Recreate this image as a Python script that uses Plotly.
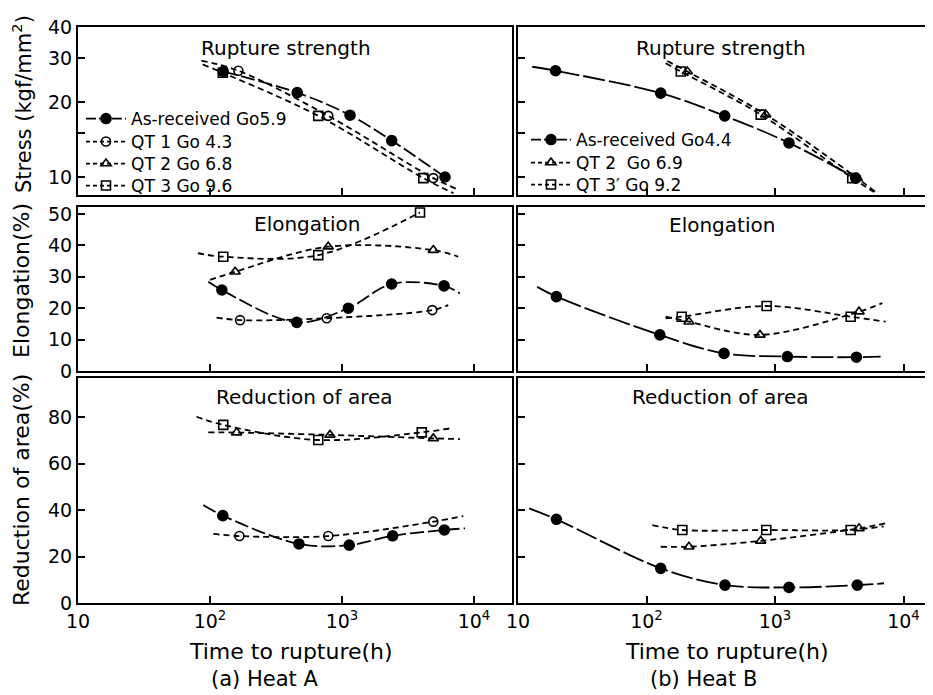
import math
import plotly.graph_objects as go

# ---------------- DATA ----------------
# Heat A : rupture strength (kgf/mm^2) vs time to rupture (h)
A_str_AR_t = [126, 458, 1150, 2380, 6030]
A_str_AR_v = [26.5, 21.8, 17.7, 14.0, 10.0]
A_str_QT1_t = [164, 787, 4920]
A_str_QT1_v = [26.7, 17.6, 9.9]
A_str_QT3_t = [125, 661, 4130]
A_str_QT3_v = [26.2, 17.6, 9.9]
# fitted curves
A_str_AR_ct = [126, 458, 1150, 2380, 6030]
A_str_AR_cv = [26.5, 21.8, 17.7, 14.0, 10.0]
A_str_QT1_ct = [86, 164, 787, 4920, 7600]
A_str_QT1_cv = [29.3, 26.7, 17.6, 9.9, 8.9]
A_str_QT3_ct = [88, 125, 661, 4130, 7000]
A_str_QT3_cv = [28.3, 26.2, 17.6, 9.9, 8.6]

# Heat A : elongation (%)
A_el_AR_t = [123, 454, 1117, 2376, 5930]
A_el_AR_v = [25.8, 15.5, 20.0, 27.7, 27.1]
A_el_QT1_t = [169, 766, 4830]
A_el_QT1_v = [16.2, 16.8, 19.4]
A_el_QT2_t = [155, 787, 4920]
A_el_QT2_v = [31.6, 39.6, 38.5]
A_el_QT3_t = [126, 661, 3900]
A_el_QT3_v = [36.4, 36.9, 50.5]
A_el_AR_ct = [97, 123, 454, 1117, 2376, 5930, 7830]
A_el_AR_cv = [28.4, 25.8, 15.5, 20.0, 27.7, 27.1, 24.7]
A_el_QT1_ct = [112, 169, 766, 4830, 6380]
A_el_QT1_cv = [17.0, 16.2, 16.8, 19.4, 21.0]
A_el_QT2_ct = [100, 155, 787, 4920, 7600]
A_el_QT2_cv = [29.0, 31.6, 39.6, 38.5, 36.4]
A_el_QT3_ct = [81, 126, 661, 3900]
A_el_QT3_cv = [37.5, 36.4, 36.9, 50.5]

# Heat A : reduction of area (%)
A_ra_AR_t = [125, 472, 1135, 2420, 5960]
A_ra_AR_v = [37.6, 25.4, 24.9, 28.9, 31.4]
A_ra_QT1_t = [167, 787, 4920]
A_ra_QT1_v = [28.8, 28.8, 35.0]
A_ra_QT2_t = [159, 811, 4920]
A_ra_QT2_v = [73.3, 72.3, 70.8]
A_ra_QT3_t = [126, 661, 4020]
A_ra_QT3_v = [76.6, 70.1, 73.4]
A_ra_AR_ct = [89, 125, 472, 1135, 2420, 5960, 8550]
A_ra_AR_cv = [42.2, 37.6, 25.4, 24.9, 28.9, 31.4, 32.1]
A_ra_QT1_ct = [106, 167, 787, 4920, 8300]
A_ra_QT1_cv = [29.7, 28.8, 28.8, 35.0, 37.4]
A_ra_QT2_ct = [97, 159, 811, 4920, 7830]
A_ra_QT2_cv = [73.4, 73.3, 72.3, 70.8, 70.5]
A_ra_QT3_ct = [79, 126, 661, 4020, 6570]
A_ra_QT3_cv = [80.1, 76.6, 70.1, 73.4, 75.1]

# Heat B : rupture strength
B_str_AR_t = [19.6, 129, 406, 1285, 4250]
B_str_AR_v = [26.7, 21.7, 17.6, 13.7, 9.9]
B_str_QT2_t = [208, 847, 4370]
B_str_QT2_v = [26.5, 17.8, 9.9]
B_str_QT3_t = [185, 774, 3990]
B_str_QT3_v = [26.5, 17.8, 9.9]
B_str_AR_ct = [12.9, 19.6, 129, 406, 1285, 4250]
B_str_AR_cv = [27.7, 26.7, 21.7, 17.6, 13.7, 9.9]
B_str_QT2_ct = [145, 208, 847, 4370, 6250]
B_str_QT2_cv = [29.2, 26.5, 17.8, 9.9, 8.6]
B_str_QT3_ct = [141, 185, 774, 3990, 5900]
B_str_QT3_cv = [28.6, 26.5, 17.8, 9.9, 8.7]

# Heat B : elongation
B_el_AR_t = [19.9, 127, 401, 1248, 4300]
B_el_AR_v = [23.7, 11.5, 5.6, 4.6, 4.4]
B_el_QT2_t = [214, 764, 4510]
B_el_QT2_v = [15.7, 11.5, 18.9]
B_el_QT3_t = [188, 861, 3880]
B_el_QT3_v = [17.3, 20.7, 17.3]
B_el_AR_ct = [14.1, 19.9, 127, 401, 1248, 4300, 6640]
B_el_AR_cv = [26.8, 23.7, 11.5, 5.6, 4.6, 4.4, 4.6]
B_el_QT2_ct = [141, 214, 764, 4510, 6840]
B_el_QT2_cv = [17.3, 15.7, 11.5, 18.9, 21.6]
B_el_QT3_ct = [141, 188, 861, 3880, 7260]
B_el_QT3_cv = [16.8, 17.3, 20.7, 17.3, 15.7]

# Heat B : reduction of area
B_ra_AR_t = [19.9, 129, 408, 1285, 4370]
B_ra_AR_v = [36.0, 14.9, 7.7, 6.7, 7.7]
B_ra_QT2_t = [214, 774, 4510]
B_ra_QT2_v = [24.2, 26.7, 32.1]
B_ra_QT3_t = [190, 855, 3880]
B_ra_QT3_v = [31.4, 31.4, 31.4]
B_ra_AR_ct = [12.2, 19.9, 129, 408, 1285, 4370, 7050]
B_ra_AR_cv = [40.7, 36.0, 14.9, 7.7, 6.7, 7.7, 8.5]
B_ra_QT2_ct = [129, 214, 774, 4510, 7260]
B_ra_QT2_cv = [24.2, 24.2, 26.7, 32.1, 34.3]
B_ra_QT3_ct = [111, 190, 855, 3880, 7000]
B_ra_QT3_cv = [33.5, 31.4, 31.4, 31.4, 33.0]

# Legend labels
legend_A = ["As-received Go5.9", "QT 1 Go 4.3", "QT 2 Go 6.8", "QT 3 Go 9.6"]
legend_B = ["As-received Go4.4", "QT 2  Go 6.9", "QT 3\u2032 Go 9.2"]

x_ticks = [10, 100, 1000, 10000]
x_ticktext = ["10", "10<sup>2</sup>", "10<sup>3</sup>", "10<sup>4</sup>"]
stress_ticks = [10, 15, 20, 30, 40]
stress_ticktext = ["10", "", "20", "30", "40"]
el_ticks = [0, 10, 20, 30, 40, 50]
ra_ticks = [0, 20, 40, 60, 80]

# ---------------- STYLE ----------------
W, H = 933, 695
OFF = 8  # page body margin of the html page
FONT = "DejaVu Sans"
AR_DASH = {"A": "14px,4px", "B": "22px,4px"}
QT_DASH = "6px,4px"
STYLE = {
    "AR": dict(symbol="circle", size=10),
    "QT1": dict(symbol="circle-open", size=9),
    "QT2": dict(symbol="triangle-up-open", size=9),
    "QT3": dict(symbol="square-open", size=9),
}

def dash_for(name, heat):
    return AR_DASH[heat] if name == "AR" else QT_DASH

def px2x(px):
    return (px - OFF) / W

def py2y(py):
    return 1 - (py - OFF) / H

fig = go.Figure()

panels = {
    ("A", "str"): ("x", "y"),
    ("A", "el"): ("x2", "y2"),
    ("A", "ra"): ("x3", "y3"),
    ("B", "str"): ("x4", "y4"),
    ("B", "el"): ("x5", "y5"),
    ("B", "ra"): ("x6", "y6"),
}

series_data = {
    ("A", "str"): [("AR", A_str_AR_t, A_str_AR_v, A_str_AR_ct, A_str_AR_cv),
                   ("QT1", A_str_QT1_t, A_str_QT1_v, A_str_QT1_ct, A_str_QT1_cv),
                   ("QT3", A_str_QT3_t, A_str_QT3_v, A_str_QT3_ct, A_str_QT3_cv)],
    ("A", "el"): [("AR", A_el_AR_t, A_el_AR_v, A_el_AR_ct, A_el_AR_cv),
                  ("QT1", A_el_QT1_t, A_el_QT1_v, A_el_QT1_ct, A_el_QT1_cv),
                  ("QT2", A_el_QT2_t, A_el_QT2_v, A_el_QT2_ct, A_el_QT2_cv),
                  ("QT3", A_el_QT3_t, A_el_QT3_v, A_el_QT3_ct, A_el_QT3_cv)],
    ("A", "ra"): [("AR", A_ra_AR_t, A_ra_AR_v, A_ra_AR_ct, A_ra_AR_cv),
                  ("QT1", A_ra_QT1_t, A_ra_QT1_v, A_ra_QT1_ct, A_ra_QT1_cv),
                  ("QT2", A_ra_QT2_t, A_ra_QT2_v, A_ra_QT2_ct, A_ra_QT2_cv),
                  ("QT3", A_ra_QT3_t, A_ra_QT3_v, A_ra_QT3_ct, A_ra_QT3_cv)],
    ("B", "str"): [("AR", B_str_AR_t, B_str_AR_v, B_str_AR_ct, B_str_AR_cv),
                   ("QT2", B_str_QT2_t, B_str_QT2_v, B_str_QT2_ct, B_str_QT2_cv),
                   ("QT3", B_str_QT3_t, B_str_QT3_v, B_str_QT3_ct, B_str_QT3_cv)],
    ("B", "el"): [("AR", B_el_AR_t, B_el_AR_v, B_el_AR_ct, B_el_AR_cv),
                  ("QT2", B_el_QT2_t, B_el_QT2_v, B_el_QT2_ct, B_el_QT2_cv),
                  ("QT3", B_el_QT3_t, B_el_QT3_v, B_el_QT3_ct, B_el_QT3_cv)],
    ("B", "ra"): [("AR", B_ra_AR_t, B_ra_AR_v, B_ra_AR_ct, B_ra_AR_cv),
                  ("QT2", B_ra_QT2_t, B_ra_QT2_v, B_ra_QT2_ct, B_ra_QT2_cv),
                  ("QT3", B_ra_QT3_t, B_ra_QT3_v, B_ra_QT3_ct, B_ra_QT3_cv)],
}

for key, items in series_data.items():
    xa, ya = panels[key]
    heat = key[0]
    for name, t, v, ct, cv in items:
        st = STYLE[name]
        fig.add_trace(go.Scatter(
            x=ct, y=cv, mode="lines", xaxis=xa, yaxis=ya, showlegend=False,
            line=dict(color="black", width=1.8, dash=dash_for(name, heat),
                      shape="spline", smoothing=1.0),
            hoverinfo="skip"))
        fig.add_trace(go.Scatter(
            x=t, y=v, mode="markers", xaxis=xa, yaxis=ya, showlegend=False,
            marker=dict(symbol=st["symbol"], size=st["size"], color="black",
                        line=dict(color="black", width=1.6))))

# legend entries (line + marker samples), one small legend box per entry
leg_common = dict(bgcolor="rgba(0,0,0,0)", borderwidth=0, itemwidth=40, tracegroupgap=0,
                  font=dict(family=FONT, size=17, color="black"),
                  xanchor="left", yanchor="middle", itemclick=False, itemdoubleclick=False)
legend_layout = {}
leg_idx = 0
for heat, names, labels, xa, ya, lx, rows in [
        ("A", ["AR", "QT1", "QT2", "QT3"], legend_A, "x", "y", 81, [119, 142, 164, 186]),
        ("B", ["AR", "QT2", "QT3"], legend_B, "x4", "y4", 526, [140, 163, 185])]:
    for name, label, ry in zip(names, labels, rows):
        leg_idx += 1
        lname = "legend" if leg_idx == 1 else f"legend{leg_idx}"
        legend_layout[lname] = dict(leg_common, x=px2x(lx), y=py2y(ry))
        st = STYLE[name]
        fig.add_trace(go.Scatter(
            x=[None], y=[None], mode="lines+markers", name=label, legend=lname,
            xaxis=xa, yaxis=ya,
            line=dict(color="black", width=1.8, dash="10px,3px" if name == "AR" else "4px,3px"),
            marker=dict(symbol=st["symbol"], size=st["size"], color="black",
                        line=dict(color="black", width=1.6))))

# ---------------- AXES ----------------
xdom_A = [px2x(78), px2x(512)]
xdom_B = [px2x(518), px2x(933)]
xr_A = [1, 1 + (512 - 78) / 132]
xr_B = [1, 1 + (933 - 518) / 128.5]
ydom = {
    "str": [py2y(195), py2y(27)],
    "el": [py2y(371), py2y(207)],
    "ra": [py2y(603), py2y(378)],
}
yrange = {
    "str": [1 - 18 / 249, math.log10(40)],
    "el": [0, (371 - 207) / 3.14],
    "ra": [0, (603 - 378) / 2.325],
}
ytick = {"str": (stress_ticks, stress_ticktext),
         "el": (el_ticks, [str(v) for v in el_ticks]),
         "ra": (ra_ticks, [str(v) for v in ra_ticks])}

axis_common = dict(showline=True, linecolor="black", linewidth=2, showgrid=False,
                   zeroline=False, ticks="inside", ticklen=7, tickwidth=1.5,
                   tickcolor="black", automargin=False,
                   tickfont=dict(family=FONT, size=19, color="black"))

layout = {}
for (heat, prop), (xa, ya) in panels.items():
    xname = "xaxis" + xa[1:]
    yname = "yaxis" + ya[1:]
    bottom = prop == "ra"
    layout[xname] = dict(axis_common, type="log", domain=xdom_A if heat == "A" else xdom_B,
                         range=xr_A if heat == "A" else xr_B, anchor=ya, mirror=True,
                         tickvals=x_ticks, ticktext=x_ticktext, showticklabels=bottom)
    tv, tt = ytick[prop]
    layout[yname] = dict(axis_common, type="log" if prop == "str" else "linear",
                         domain=ydom[prop], range=yrange[prop], anchor=xa,
                         mirror=(heat == "A"), tickvals=tv, ticktext=tt,
                         showticklabels=(heat == "A"))

fig.update_layout(**layout)

# ---------------- TEXT ----------------
ann = []
def add_text(px, py, text, size, angle=0):
    ann.append(dict(x=px2x(px), y=py2y(py), xref="paper", yref="paper", text=text,
                    showarrow=False, xanchor="center", yanchor="middle", textangle=angle,
                    font=dict(family=FONT, size=size, color="black")))

add_text(286, 48, "Rupture strength", 20)
add_text(721, 48, "Rupture strength", 20)
add_text(307, 224, "Elongation", 20)
add_text(722, 225, "Elongation", 20)
add_text(304, 397, "Reduction of area", 20)
add_text(720, 397, "Reduction of area", 20)
add_text(22, 104, "Stress (kgf/mm<sup>2</sup>)", 21, -90)
add_text(22, 281, "Elongation(%)", 22, -90)
add_text(22, 490, "Reduction of area(%)", 22, -90)
add_text(291, 651, "Time to rupture(h)", 22)
add_text(727, 651, "Time to rupture(h)", 22)
add_text(264, 679, "(a) Heat A", 21)
add_text(703, 679, "(b) Heat B", 21)

fig.update_layout(
    template="none",
    width=W, height=H, margin=dict(l=0, r=0, t=0, b=0, autoexpand=False),
    paper_bgcolor="white", plot_bgcolor="white",
    annotations=ann,
    showlegend=True,
    **legend_layout,
)

fig.write_html("out.html")
